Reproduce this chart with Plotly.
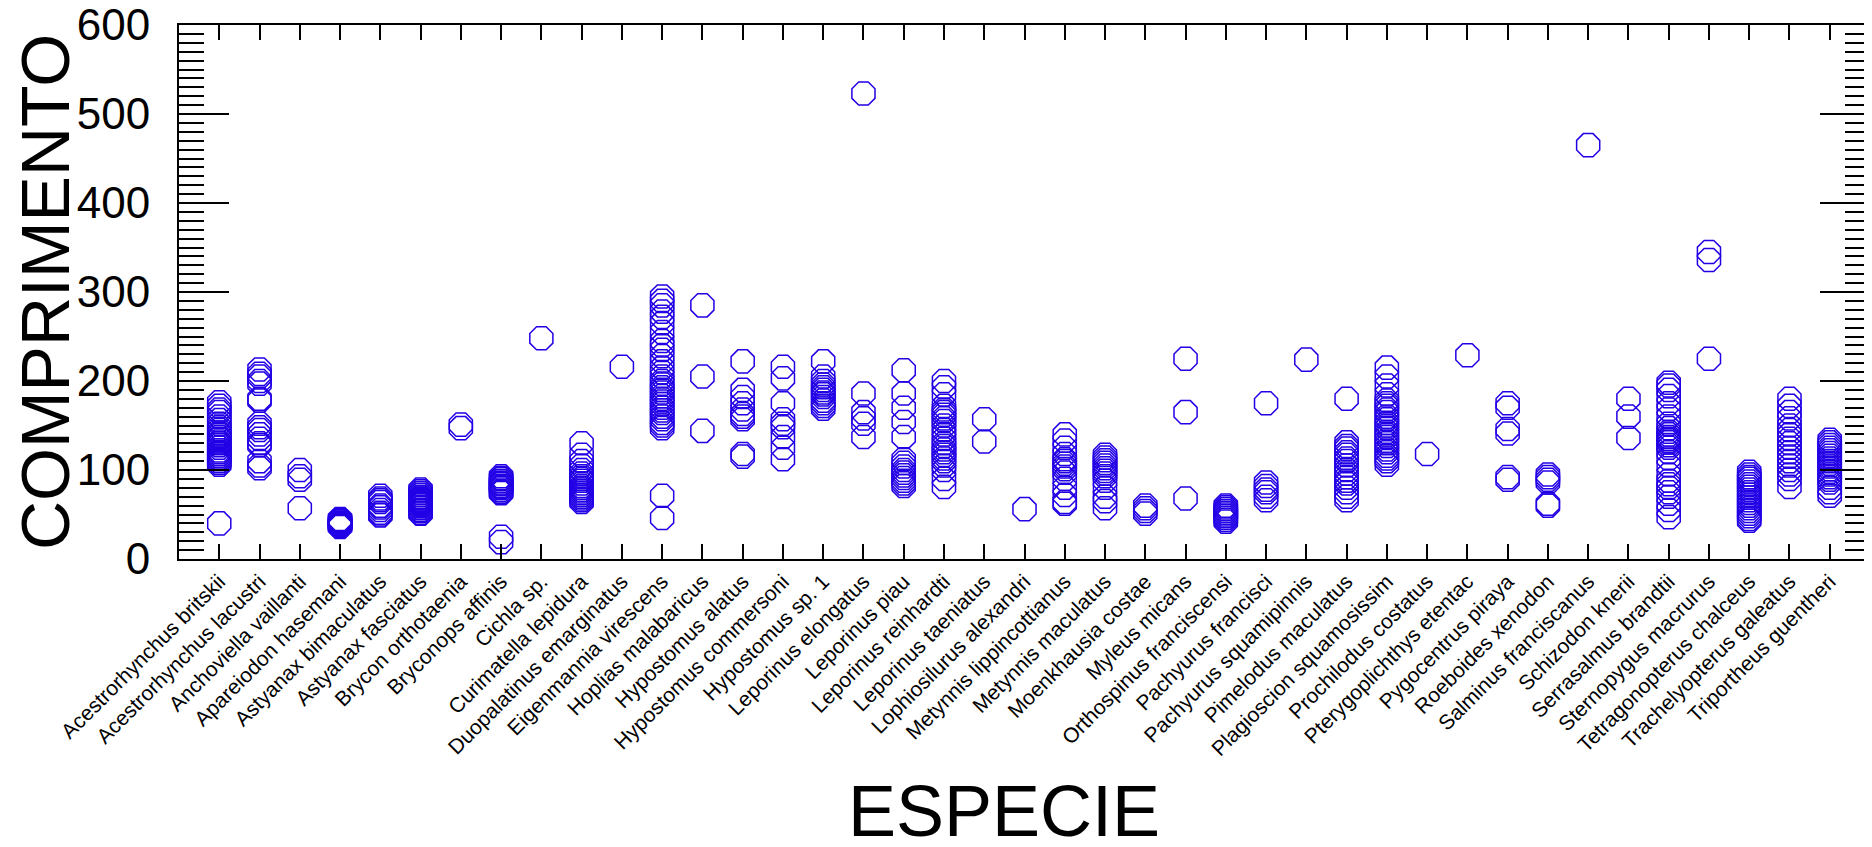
import plotly.graph_objects as go

especies = [
    "Acestrorhynchus britskii", "Acestrorhynchus lacustri", "Anchoviella vaillanti",
    "Apareiodon hasemani", "Astyanax bimaculatus", "Astyanax fasciatus",
    "Brycon orthotaenia", "Bryconops affinis", "Cichla sp.", "Curimatella lepidura",
    "Duopalatinus emarginatus", "Eigenmannia virescens", "Hoplias malabaricus",
    "Hypostomus alatus", "Hypostomus commersoni", "Hypostomus sp. 1",
    "Leporinus elongatus", "Leporinus piau", "Leporinus reinhardti",
    "Leporinus taeniatus", "Lophiosilurus alexandri", "Metynnis lippincottianus",
    "Metynnis maculatus", "Moenkhausia costae", "Myleus micans",
    "Orthospinus franciscensi", "Pachyurus francisci", "Pachyurus squamipinnis",
    "Pimelodus maculatus", "Plagioscion squamosissim", "Prochilodus costatus",
    "Pterygoplichthys etentac", "Pygocentrus piraya", "Roeboides xenodon",
    "Salminus franciscanus", "Schizodon knerii", "Serrasalmus brandtii",
    "Sternopygus macrurus", "Tetragonopterus chalceus", "Trachelyopterus galeatus",
    "Triportheus guentheri",
]

comprimentos = [
    [176, 172, 168, 165, 160, 156, 152, 148, 145, 142, 140, 137, 135, 132, 130, 128, 125, 122, 120, 118, 116, 114, 112, 110, 108, 106, 40],
    [213, 208, 205, 200, 197, 180, 178, 152, 148, 145, 140, 135, 130, 128, 110, 105, 102],
    [100, 93, 89, 57],
    [36, 37, 38, 38, 39, 40, 40, 41, 42, 43, 44, 45],
    [71, 68, 66, 64, 60, 58, 55, 52, 50, 49],
    [51, 52, 54, 55, 57, 58, 60, 61, 62, 63, 64, 65, 66, 67, 68, 69, 70, 72, 74, 76, 78],
    [151, 147],
    [74, 75, 76, 78, 80, 81, 82, 84, 85, 86, 88, 90, 91, 93, 25, 19],
    [248],
    [130, 117, 110, 105, 100, 96, 93, 90, 88, 85, 82, 80, 78, 76, 74, 72, 70, 68, 66, 64],
    [216],
    [295, 290, 285, 278, 272, 265, 255, 245, 240, 235, 228, 222, 215, 210, 205, 200, 197, 193, 190, 187, 183, 180, 177, 174, 170, 167, 164, 160, 157, 153, 150, 147, 71, 46],
    [285, 205, 144],
    [222, 190, 182, 175, 168, 163, 160, 157, 118, 115],
    [216, 203, 175, 157, 152, 148, 137, 125, 112],
    [222, 205, 200, 196, 193, 190, 187, 185, 182, 178, 175, 172, 169],
    [523, 186, 165, 158, 152, 137],
    [212, 186, 170, 154, 137, 112, 108, 104, 100, 97, 94, 91, 88, 85, 82],
    [200, 193, 185, 172, 168, 165, 162, 158, 155, 150, 145, 140, 135, 130, 127, 123, 120, 117, 113, 110, 105, 100, 90, 81],
    [157, 132],
    [56],
    [140, 133, 125, 118, 112, 110, 107, 104, 101, 97, 90, 80, 72, 64, 62],
    [117, 114, 111, 108, 105, 102, 99, 96, 93, 88, 80, 70, 65, 57],
    [60, 57, 54, 51],
    [225, 165, 68],
    [60, 58, 56, 54, 52, 50, 48, 46, 44, 42],
    [175, 86, 82, 78, 75, 70, 66],
    [224],
    [180, 131, 127, 124, 120, 117, 113, 110, 105, 100, 96, 92, 88, 85, 80, 75, 70, 66],
    [215, 205, 195, 185, 178, 175, 172, 168, 165, 160, 157, 153, 150, 147, 143, 140, 137, 133, 130, 127, 123, 120, 116, 113, 110, 106],
    [118],
    [229],
    [175, 170, 146, 141, 92, 89],
    [95, 92, 89, 86, 62, 60],
    [465],
    [180, 160, 136],
    [198, 195, 190, 183, 175, 168, 160, 152, 147, 143, 140, 137, 135, 133, 131, 128, 125, 120, 113, 105, 95, 88, 84, 80, 75, 70, 62, 55, 47],
    [345, 336, 225],
    [98, 95, 92, 90, 87, 84, 81, 78, 75, 72, 69, 66, 63, 60, 57, 54, 51, 48, 45, 43],
    [180, 172, 165, 158, 150, 145, 140, 135, 130, 125, 120, 115, 110, 105, 100, 95, 90, 81],
    [134, 131, 128, 125, 122, 119, 116, 113, 110, 107, 104, 101, 98, 95, 92, 89, 86, 80, 75, 71],
]

x_vals = []
y_vals = []
for nome, vals in zip(especies, comprimentos):
    for v in vals:
        x_vals.append(nome)
        y_vals.append(v)

COR = "#2200e6"
FONTE = "Liberation Sans, Arial, sans-serif"

fig = go.Figure()
fig.add_trace(go.Scatter(
    x=x_vals, y=y_vals, mode="markers",
    marker=dict(symbol="octagon-open", size=25, color=COR, line=dict(width=1.5, color=COR)),
    hoverinfo="x+y", showlegend=False,
))

# the page body adds an 8px margin; the figure is sized/offset to compensate
fig.update_layout(
    template="none",
    width=1864, height=839,
    margin=dict(l=171, r=2, t=17, b=288, autoexpand=False),
    paper_bgcolor="white", plot_bgcolor="white",
    font=dict(family=FONTE, color="black"),
    xaxis=dict(
        type="category", categoryorder="array", categoryarray=especies,
        range=[-1, len(especies)], automargin=False,
        showgrid=False, zeroline=False,
        showline=True, linecolor="black", linewidth=2, mirror="allticks",
        ticks="inside", ticklen=15, tickwidth=1.5, tickcolor="black",
        tickangle=-45, tickfont=dict(size=21, family=FONTE, color="black"),
        ticklabeloverflow="allow",
    ),
    yaxis=dict(
        range=[0, 600], dtick=100, tick0=0, automargin=False,
        showgrid=False, zeroline=False,
        showline=True, linecolor="black", linewidth=2, mirror="allticks",
        ticks="inside", ticklen=50, tickwidth=1.5, tickcolor="black",
        tickfont=dict(size=44, family=FONTE, color="black"),
        ticklabelstandoff=18, ticklabeloverflow="allow",
        minor=dict(dtick=10, tick0=0, ticks="inside", ticklen=25, tickwidth=1.5, tickcolor="black", showgrid=False),
    ),
    annotations=[
        dict(text="ESPECIE", xref="paper", yref="paper", x=0.488, y=-0.472,
             xanchor="center", yanchor="middle", showarrow=False,
             font=dict(size=72, family=FONTE, color="black")),
        dict(text="COMPRIMENTO", xref="paper", yref="paper", x=-0.0792, y=0.5,
             xanchor="center", yanchor="middle", showarrow=False, textangle=-90,
             font=dict(size=68, family=FONTE, color="black")),
    ],
)

fig.write_html("out.html")
